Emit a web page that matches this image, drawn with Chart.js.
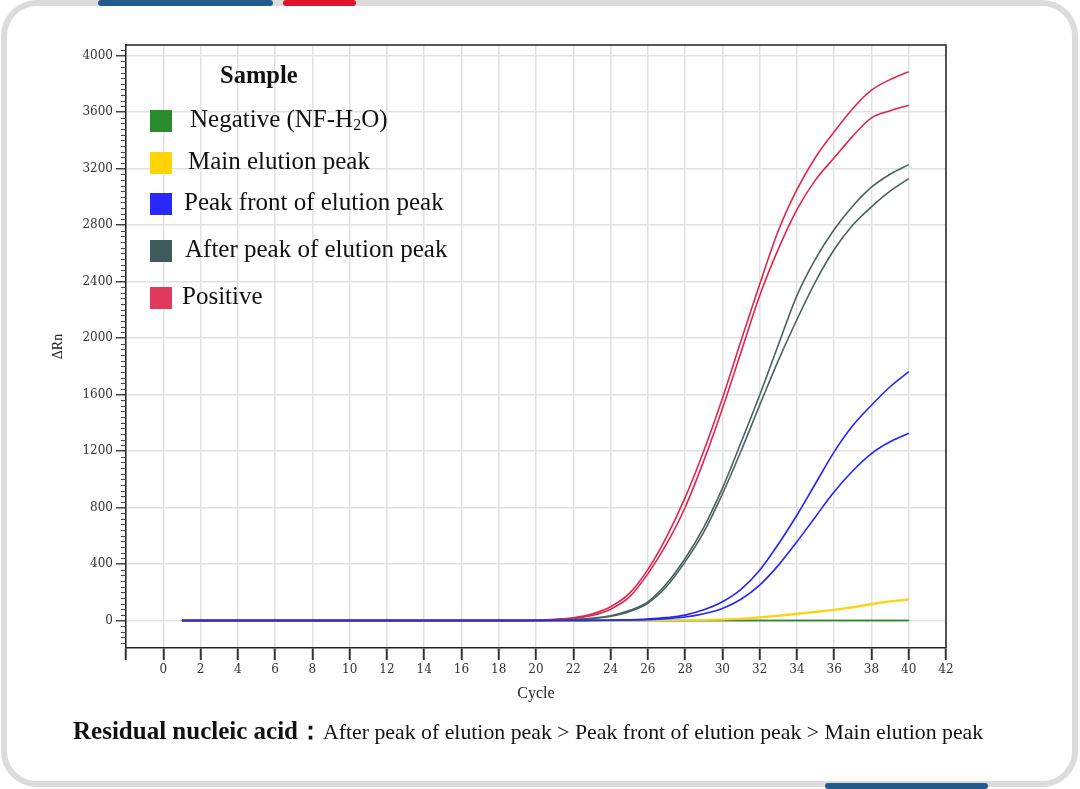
<!DOCTYPE html>
<html>
<head>
<meta charset="utf-8">
<script src="https://cdn.jsdelivr.net/npm/chart.js@4.4.0/dist/chart.umd.min.js"></script>
<style>
html, body { margin: 0; padding: 0; background: #fff; }
body { width: 1080px; height: 789px; position: relative; overflow: hidden; font-family: "Liberation Serif", "Times New Roman", serif; color: #111; }
#frame { position: absolute; left: 1px; top: 0; width: 1077px; height: 787px; box-sizing: border-box; border: 6px solid #dcdcdc; border-radius: 36px; }
.bar { position: absolute; height: 6px; border-radius: 3px; }
#chartBox { position: absolute; left: 0; top: 0; width: 1080px; height: 789px; }
.lgTitle { position: absolute; left: 220px; top: 61px; font-weight: bold; font-size: 24.5px; }
.lgItem { position: absolute; left: 150px; height: 23px; }
.lgItem .sw { position: absolute; left: 0; top: 0; width: 22px; height: 22px; }
.lgItem .lbl { position: absolute; top: -5px; white-space: nowrap; font-size: 25px; }
.lbl sub { font-size: 16px; vertical-align: -3px; }
#caption { position: absolute; left: 73px; top: 714px; white-space: nowrap; }
#caption b { font-size: 25px; }
#caption span { font-size: 21.8px; }
</style>
</head>
<body>
<div id="frame"></div>
<div class="bar" style="left:98px;top:0;width:175px;background:#215a8c;"></div>
<div class="bar" style="left:283px;top:0;width:73px;background:#dc1430;"></div>
<div class="bar" style="left:825px;top:783px;width:163px;background:#215a8c;"></div>

<div id="chartBox"><canvas id="qpcrChart"></canvas></div>

<div class="lgTitle">Sample</div>
<div class="lgItem" style="top:110px"><div class="sw" style="background:#2a8a2e"></div><div class="lbl" style="left:40px">Negative (NF-H<sub>2</sub>O)</div></div>
<div class="lgItem" style="top:152px"><div class="sw" style="background:#ffd400"></div><div class="lbl" style="left:38px">Main elution peak</div></div>
<div class="lgItem" style="top:193px"><div class="sw" style="background:#2828ff"></div><div class="lbl" style="left:34px">Peak front of elution peak</div></div>
<div class="lgItem" style="top:240px"><div class="sw" style="background:#3e5a5a"></div><div class="lbl" style="left:35px">After peak of elution peak</div></div>
<div class="lgItem" style="top:287px"><div class="sw" style="background:#e03a5c"></div><div class="lbl" style="left:32px">Positive</div></div>

<div id="caption"><b>Residual nucleic acid：</b><span>After peak of elution peak &gt; Peak front of elution peak &gt; Main elution peak</span></div>

<script>
// ---- DATA ----
const cycles = [1, 2, 3, 4, 5, 6, 7, 8, 9, 10, 11, 12, 13, 14, 15, 16, 17, 18, 19, 20,
                21, 22, 23, 24, 25, 26, 27, 28, 29, 30, 31, 32, 33, 34, 35, 36, 37, 38, 39, 40];

// cycles 1-19 are flat at 0 for every sample
const negativeA = [0,0,0,0,0,0,0,0,0,0, 0,0,0,0,0,0,0,0,0,0, 0,0,0,0,0,0,0,0,0,0, 0,0,0,0,0,0,0,0,0,0];
const negativeB = [0,0,0,0,0,0,0,0,0,0, 0,0,0,0,0,0,0,0,0,0, 0,0,0,0,0,0,0,0,0,0, 0,0,0,0,0,0,0,0,0,0];
const mainPeakA = [0,0,0,0,0,0,0,0,0,0, 0,0,0,0,0,0,0,0,0,0, 0,0,0,0,0,0,1,2,4,8, 14,24,36,50,64,78,96,120,138,151];
const mainPeakB = [0,0,0,0,0,0,0,0,0,0, 0,0,0,0,0,0,0,0,0,0, 0,0,0,0,0,0,0,1,3,6, 11,20,31,44,58,72,90,112,132,146];
const frontA    = [0,0,0,0,0,0,0,0,0,0, 0,0,0,0,0,0,0,0,0,0, 0,0,1,2,5,10,20,38,75,132, 220,356,540,745,970,1194,1380,1524,1655,1762];
const frontB    = [0,0,0,0,0,0,0,0,0,0, 0,0,0,0,0,0,0,0,0,0, 0,0,0,1,3,6,12,24,48,85, 150,250,390,557,735,911,1060,1182,1265,1325];
const afterA    = [0,0,0,0,0,0,0,0,0,0, 0,0,0,0,0,0,0,0,0,0, 2,6,15,33,70,132,260,439,660,935, 1260,1595,1950,2300,2560,2768,2935,3068,3160,3228];
const afterB    = [0,0,0,0,0,0,0,0,0,0, 0,0,0,0,0,0,0,0,0,0, 1,5,13,30,62,122,240,415,625,895, 1200,1524,1840,2131,2400,2627,2800,2929,3040,3129];
const positiveA = [0,0,0,0,0,0,0,0,0,0, 0,0,0,0,0,0,0,0,0,2, 8,19,45,97,190,360,590,870,1200,1572, 1980,2380,2760,3051,3280,3460,3625,3755,3830,3885];
const positiveB = [0,0,0,0,0,0,0,0,0,0, 0,0,0,0,0,0,0,0,0,1, 5,14,35,80,165,330,540,800,1130,1500, 1900,2300,2630,2910,3120,3276,3430,3559,3610,3649];

const xTicks = [-2, 0, 2, 4, 6, 8, 10, 12, 14, 16, 18, 20, 22, 24, 26, 28, 30, 32, 34, 36, 38, 40, 42];
const yTicks = [0, 400, 800, 1200, 1600, 2000, 2400, 2800, 3200, 3600, 4000];

const COLORS = {
    negative: '#2e8b2e',
    main: '#ffd21a',
    front: '#2424ff',
    after: '#4a6262',
    positive: '#e0264e'
};

function toPoints(values) {
    return cycles.map((c, i) => ({ x: c, y: values[i] }));
}

function curve(label, values, color, order) {
    return {
        label: label,
        data: toPoints(values),
        borderColor: color,
        borderWidth: 1.6,
        pointRadius: 0,
        fill: false,
        cubicInterpolationMode: 'monotone',
        order: order
    };
}

// small ticks between the labelled ones + top/right frame lines
const axisExtras = {
    id: 'axisExtras',
    afterDraw(chart) {
        const { ctx, chartArea, scales } = chart;
        const y = scales.y;
        ctx.save();
        ctx.strokeStyle = '#444';
        ctx.lineWidth = 1;
        for (let v = -160; v <= 4060; v += 40) {
            if (v % 400 === 0) continue;
            const py = Math.round(y.getPixelForValue(v)) + 0.5;
            ctx.beginPath();
            ctx.moveTo(chartArea.left - 5, py);
            ctx.lineTo(chartArea.left, py);
            ctx.stroke();
        }
        ctx.strokeStyle = '#222';
        ctx.lineWidth = 1.5;
        ctx.beginPath();
        ctx.moveTo(chartArea.left, chartArea.top);
        ctx.lineTo(chartArea.right, chartArea.top);
        ctx.lineTo(chartArea.right, chartArea.bottom);
        ctx.stroke();
        ctx.restore();
    }
};

const tickFont = { family: 'DejaVu Serif', size: 12 };

const ctx = document.getElementById('qpcrChart').getContext('2d');
const qpcrChart = new Chart(ctx, {
    type: 'line',
    data: {
        datasets: [
            curve('Peak front of elution peak', frontA, COLORS.front, 0),
            curve('Peak front of elution peak', frontB, COLORS.front, 0),
            curve('After peak of elution peak', afterA, COLORS.after, 1),
            curve('After peak of elution peak', afterB, COLORS.after, 1),
            curve('Positive', positiveA, COLORS.positive, 2),
            curve('Positive', positiveB, COLORS.positive, 2),
            curve('Main elution peak', mainPeakA, COLORS.main, 3),
            curve('Main elution peak', mainPeakB, COLORS.main, 3),
            curve('Negative (NF-H₂O)', negativeA, COLORS.negative, 4),
            curve('Negative (NF-H₂O)', negativeB, COLORS.negative, 4)
        ]
    },
    options: {
        responsive: true,
        maintainAspectRatio: false,
        animation: false,
        layout: { padding: { left: 40, top: 45, right: 134, bottom: 84 } },
        plugins: {
            legend: { display: false },
            tooltip: { enabled: false }
        },
        scales: {
            x: {
                type: 'linear',
                min: -2,
                max: 42,
                afterBuildTicks: (scale) => { scale.ticks = xTicks.map(v => ({ value: v })); },
                afterFit: (scale) => { scale.height = 57; },
                ticks: {
                    autoSkip: false,
                    maxRotation: 0,
                    padding: 3,
                    color: '#333',
                    font: tickFont,
                    callback: (v) => (v === -2 ? '' : String(v))
                },
                grid: {
                    color: '#e2e2e2',
                    lineWidth: 1.5,
                    tickLength: 12,
                    tickColor: '#333',
                    tickWidth: 2
                },
                border: { color: '#222', width: 1.5 },
                title: {
                    display: true,
                    text: 'Cycle',
                    color: '#222',
                    font: { family: 'Liberation Serif', size: 16 },
                    padding: { top: 0, bottom: 2 }
                }
            },
            y: {
                min: -195,
                max: 4075,
                afterBuildTicks: (scale) => { scale.ticks = yTicks.map(v => ({ value: v })); },
                afterFit: (scale) => { scale.width = 86; },
                ticks: {
                    padding: 3,
                    color: '#333',
                    font: tickFont,
                    callback: (v) => String(v)
                },
                grid: {
                    color: '#e2e2e2',
                    lineWidth: 1.5,
                    tickLength: 10,
                    tickColor: '#444',
                    tickWidth: 1.5
                },
                border: { color: '#222', width: 1.5 },
                title: {
                    display: true,
                    text: 'ΔRn',
                    color: '#222',
                    font: { family: 'Liberation Serif', size: 14 },
                    padding: { top: 10, bottom: 0 }
                }
            }
        }
    },
    plugins: [axisExtras]
});
</script>
</body>
</html>
